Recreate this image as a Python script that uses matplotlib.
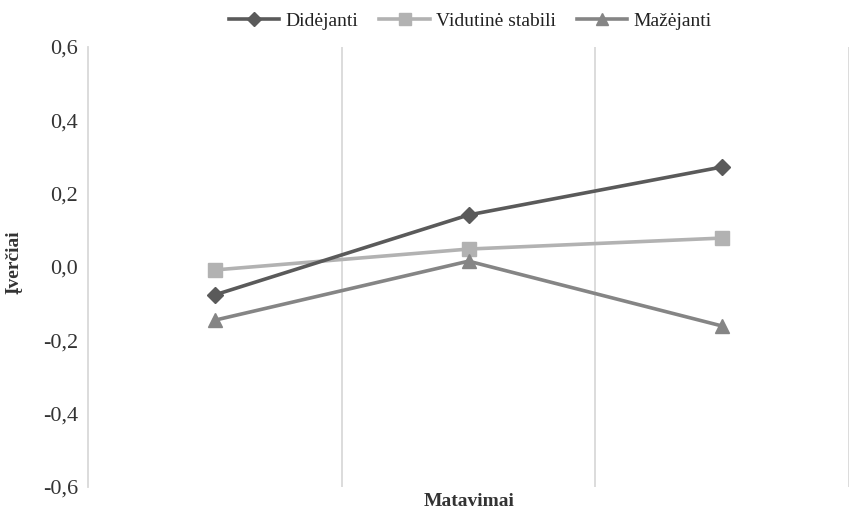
import matplotlib
matplotlib.use("Agg")
import matplotlib.pyplot as plt
from matplotlib.ticker import FixedLocator, FuncFormatter

plt.rcParams['font.family'] = ['Liberation Serif', 'DejaVu Serif']

measurements = ["1", "2", "3"]
didejanti = [-0.076, 0.142, 0.273]
vidutine = [-0.008, 0.049, 0.079]
mazejanti = [-0.145, 0.016, -0.161]

series_names = ["Didėjanti", "Vidutinė stabili", "Mažėjanti"]
y_ticks = [-0.6, -0.4, -0.2, 0.0, 0.2, 0.4, 0.6]

fig = plt.figure(figsize=(8.5, 5.14), dpi=100)
ax = fig.add_axes([0.1035, 0.0525, 0.8955, 0.856])

x = list(range(len(measurements)))
ax.plot(x, didejanti, color="#5a5a5a", lw=2.6, marker="D", ms=8, label=series_names[0], zorder=4)
ax.plot(x, vidutine, color="#b2b2b2", lw=2.6, marker="s", ms=10, label=series_names[1], zorder=3)
ax.plot(x, mazejanti, color="#858585", lw=2.6, marker="^", ms=10, label=series_names[2], zorder=3)

ax.set_xlim(-0.5, len(measurements) - 0.5)
ax.set_ylim(-0.6, 0.6)

# category boundaries as vertical gridlines
bounds = [i + 0.5 for i in range(len(measurements))]
ax.xaxis.set_major_locator(FixedLocator(x))
ax.xaxis.set_minor_locator(FixedLocator(bounds))
ax.set_xticklabels([])
ax.grid(True, axis="x", which="minor", color="#d9d9d9", lw=1.3)
ax.tick_params(axis="x", which="both", length=0)

ax.yaxis.set_major_locator(FixedLocator(y_ticks))
ax.yaxis.set_major_formatter(FuncFormatter(lambda v, p: f"{v:.1f}".replace(".", ",").replace("-0,0", "0,0")))
ax.tick_params(axis="y", length=0, labelsize=16, pad=7, colors="#333333")

for s in ["top", "right", "bottom"]:
    ax.spines[s].set_visible(False)
ax.spines["left"].set_color("#d9d9d9")
ax.spines["left"].set_linewidth(1.3)

fig.text(0.552, 1 - 502 / 514, "Matavimai", fontsize=14, fontweight="bold", color="#333333",
         ha="center", va="center")
fig.text(0.016, 1 - 262 / 514, "Įverčiai", fontsize=14, fontweight="bold", color="#333333",
         ha="center", va="center", rotation=90)

fig.legend(loc="upper center", bbox_to_anchor=(0.553, 1.01), ncol=3, frameon=False,
           fontsize=14, handlelength=2.6, columnspacing=1.1, handletextpad=0.3,
           markerscale=0.85, labelcolor="#222222")

fig.savefig("out.png", dpi=100, facecolor="white")
